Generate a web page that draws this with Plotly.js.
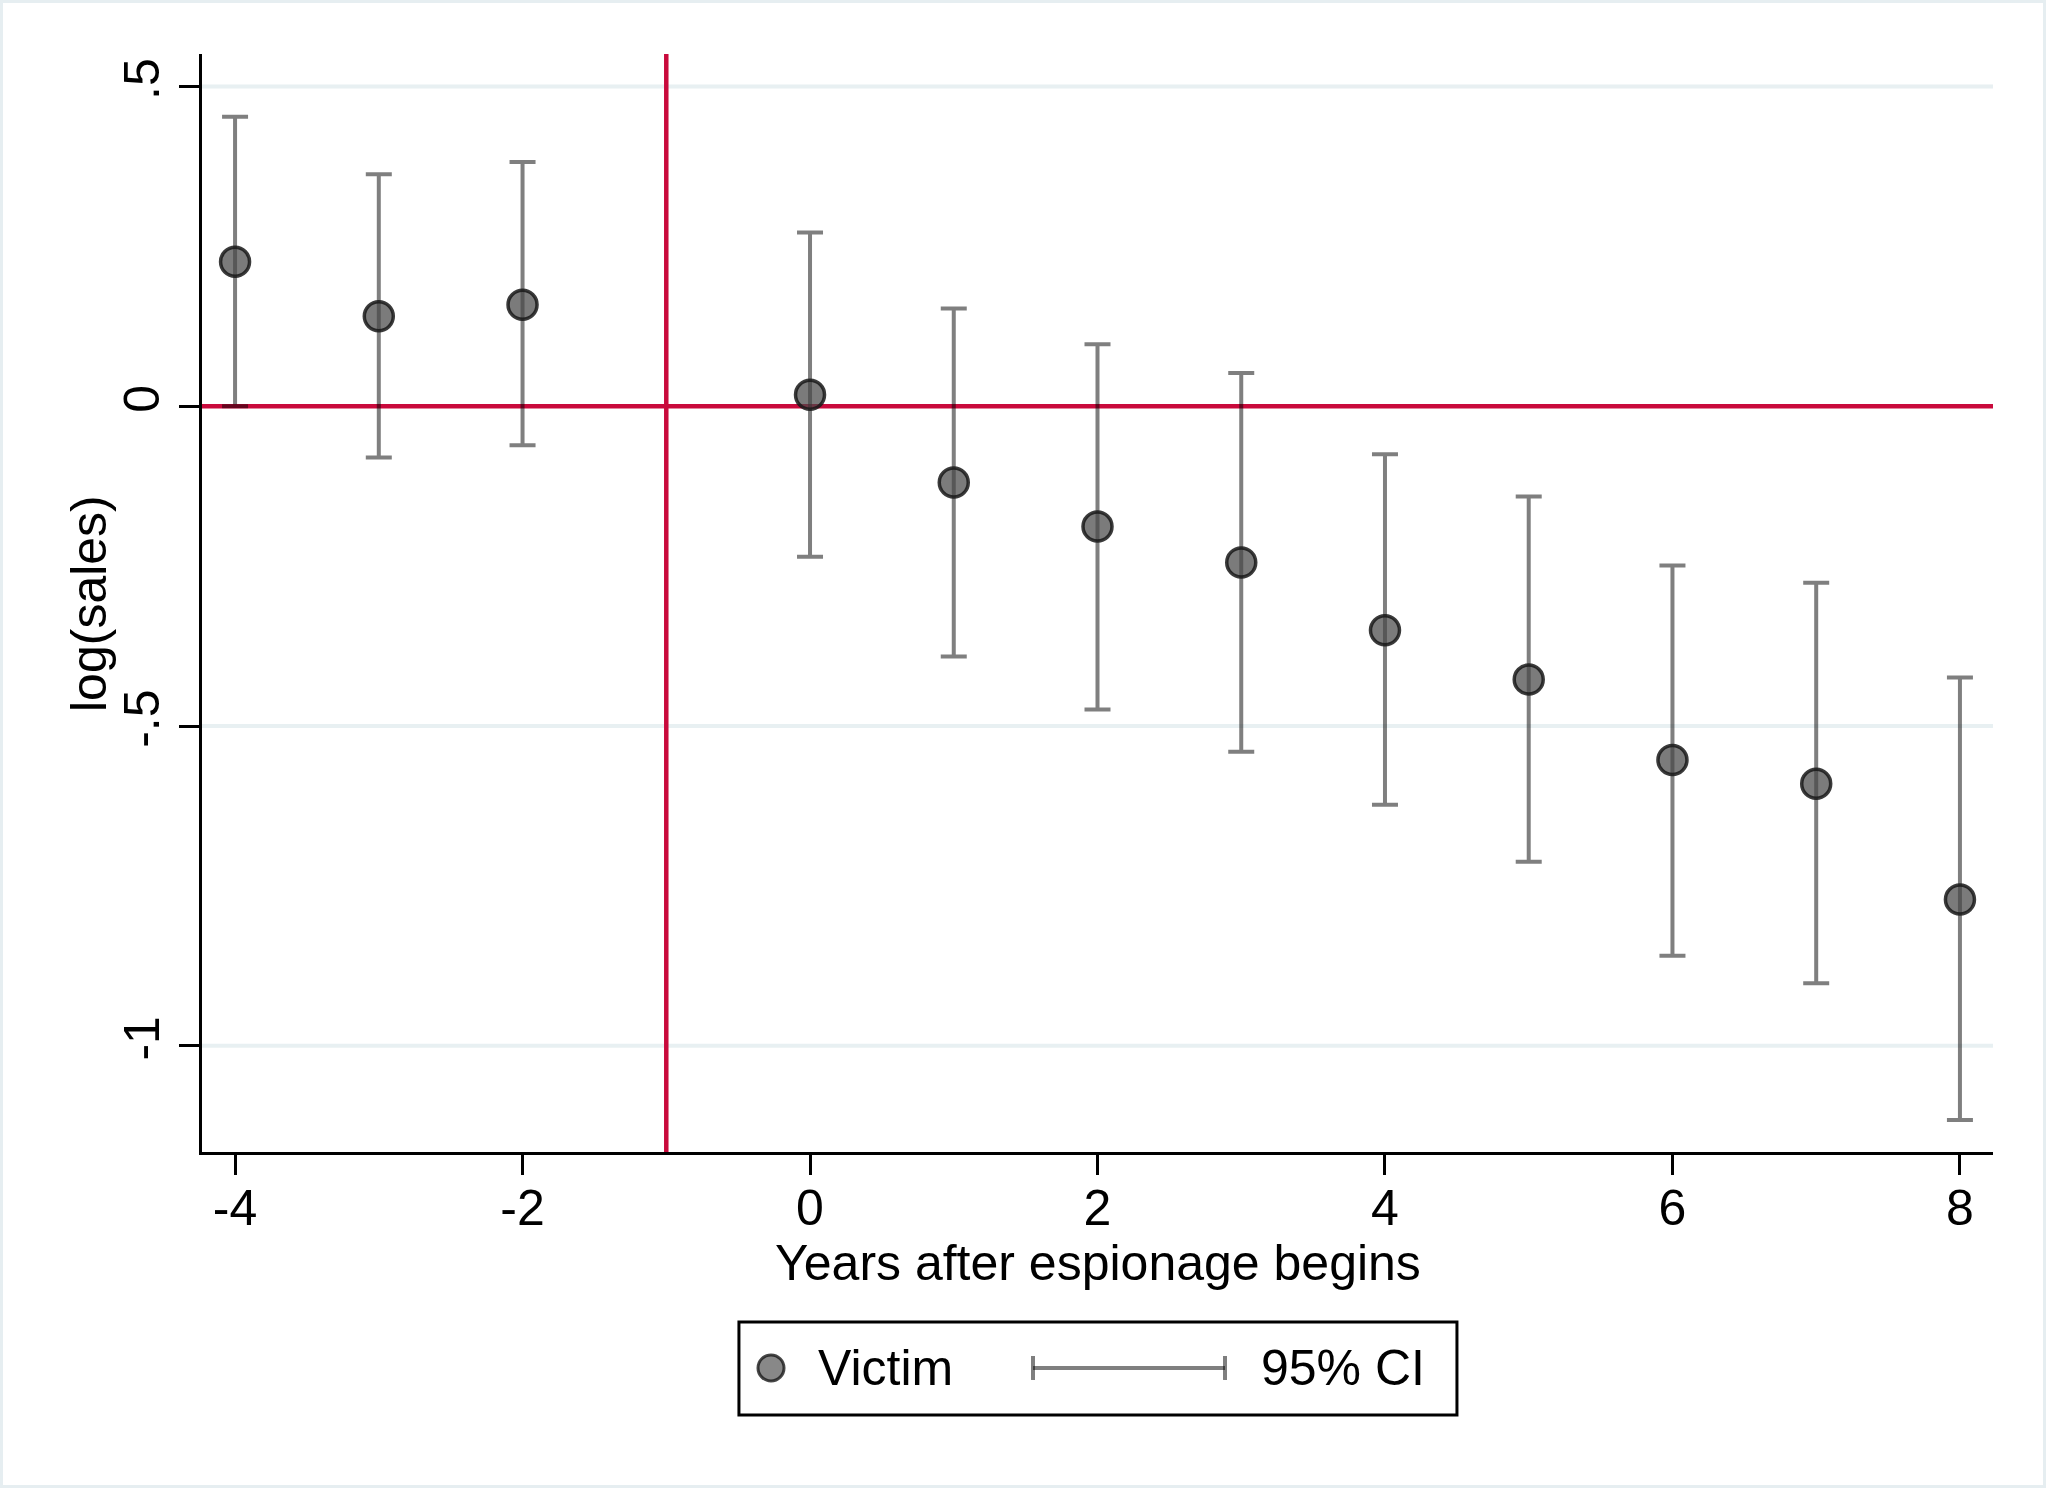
<!DOCTYPE html>
<html>
<head>
<meta charset="utf-8">
<script src="https://cdn.plot.ly/plotly-3.0.1.min.js"></script>
<style>
  body { margin: 0; background: #fff; }
  #wrap { position: relative; width: 2046px; height: 1488px; }
  #frame { position: absolute; left: 0; top: 0; width: 2046px; height: 1488px;
           box-sizing: border-box; border: 3px solid #e6eef1; pointer-events: none; }
</style>
</head>
<body>
<div id="wrap">
  <div id="chart" style="width:2046px;height:1488px;"></div>
  <div id="frame"></div>
</div>
<script>
// event-study coefficients
const years = [-4, -3, -2, 0, 1, 2, 3, 4, 5, 6, 7, 8];
const coef = [0.226, 0.141, 0.159, 0.018, -0.119, -0.188, -0.244, -0.350, -0.427, -0.553, -0.590, -0.771];
const ciHigh = [0.453, 0.363, 0.382, 0.272, 0.153, 0.097, 0.052, -0.075, -0.141, -0.249, -0.276, -0.424];
const ciLow = [0.000, -0.080, -0.061, -0.235, -0.391, -0.474, -0.540, -0.623, -0.712, -0.859, -0.902, -1.116];

const xTicks = [-4, -2, 0, 2, 4, 6, 8];
const xTickText = ['-4', '-2', '0', '2', '4', '6', '8'];
const yTicks = [-1, -0.5, 0, 0.5];
const yTickText = ['-1', '-.5', '0', '.5'];

const eventYear = -1;   // vertical reference line
const baseline = 0;     // horizontal reference line

const RED = '#c90a3c';
const GRID = '#e8f0f2';
const FONT = 'Liberation Sans, Arial, Helvetica, sans-serif';

function plotChart() {
    let victim = {
        type: 'scatter',
        mode: 'markers',
        x: years,
        y: coef,
        name: 'Victim',
        showlegend: false,
        cliponaxis: false,
        marker: {
            size: 29,
            color: 'rgba(72,72,72,0.72)',
            line: { color: 'rgba(25,25,25,0.85)', width: 3.5 }
        },
        error_y: {
            type: 'data',
            symmetric: false,
            array: ciHigh.map((h, i) => h - coef[i]),
            arrayminus: ciLow.map((l, i) => coef[i] - l),
            color: 'rgba(0,0,0,0.5)',
            thickness: 4,
            width: 13
        }
    };

    // gridlines as shapes so the red reference lines can sit on top of them
    const gridShapes = yTicks.filter(v => v !== baseline).map(v => ({
        type: 'line', xref: 'paper', yref: 'y', x0: 0, x1: 1, y0: v, y1: v,
        line: { color: GRID, width: 4 }, layer: 'below'
    }));

    // legend is drawn by hand so the CI symbol can carry caps like the original
    const legY = -0.1967;
    const shapes = gridShapes.concat([
        { type: 'line', xref: 'x', yref: 'paper', x0: eventYear, x1: eventYear, y0: 0, y1: 1,
          line: { color: RED, width: 4.5 }, layer: 'below' },
        { type: 'line', xref: 'paper', yref: 'y', x0: 0, x1: 1, y0: baseline, y1: baseline,
          line: { color: RED, width: 4.5 }, layer: 'below' },
        // legend box
        { type: 'rect', xref: 'paper', yref: 'paper', x0: 0.2998, x1: 0.7007, y0: -0.2395, y1: -0.1548,
          line: { color: '#000', width: 3 }, fillcolor: '#fff' },
        // legend marker
        { type: 'circle', xref: 'paper', yref: 'paper', xsizemode: 'pixel', ysizemode: 'pixel',
          xanchor: 0.3177, yanchor: legY, x0: -13, x1: 13, y0: -13, y1: 13,
          fillcolor: 'rgba(72,72,72,0.65)', line: { color: 'rgba(25,25,25,0.8)', width: 3 } },
        // legend CI symbol
        { type: 'line', xref: 'paper', yref: 'paper', x0: 0.464, x1: 0.5712, y0: legY, y1: legY,
          line: { color: 'rgba(0,0,0,0.5)', width: 4 } },
        { type: 'line', xref: 'paper', yref: 'paper', ysizemode: 'pixel', yanchor: legY,
          x0: 0.464, x1: 0.464, y0: -12, y1: 12, line: { color: 'rgba(0,0,0,0.5)', width: 4 } },
        { type: 'line', xref: 'paper', yref: 'paper', ysizemode: 'pixel', yanchor: legY,
          x0: 0.5712, x1: 0.5712, y0: -12, y1: 12, line: { color: 'rgba(0,0,0,0.5)', width: 4 } }
    ]);

    const annotations = [
        // axis titles
        { xref: 'paper', yref: 'paper', x: 0.5, y: -0.1011, xanchor: 'center', yanchor: 'middle',
          text: 'Years after espionage begins', showarrow: false, font: { family: FONT, size: 50, color: '#000' } },
        { xref: 'paper', yref: 'paper', x: -0.0631, y: 0.5, xanchor: 'center', yanchor: 'middle', textangle: -90,
          text: 'log(sales)', showarrow: false, font: { family: FONT, size: 50, color: '#000' } },
        // legend labels
        { xref: 'paper', yref: 'paper', x: 0.3428, y: legY, xanchor: 'left', yanchor: 'middle',
          text: 'Victim', showarrow: false, font: { family: FONT, size: 50, color: '#000' } },
        { xref: 'paper', yref: 'paper', x: 0.5902, y: legY, xanchor: 'left', yanchor: 'middle',
          text: '95% CI', showarrow: false, font: { family: FONT, size: 50, color: '#000' } }
    ];

    const layout = {
        width: 2046,
        height: 1488,
        margin: { l: 202, r: 53, t: 54, b: 336 },
        paper_bgcolor: '#fff',
        plot_bgcolor: '#fff',
        showlegend: false,
        font: { family: FONT, size: 50, color: '#000' },
        xaxis: {
            range: [-4.23, 8.23],
            tickvals: xTicks,
            ticktext: xTickText,
            ticks: 'outside',
            ticklen: 20,
            tickwidth: 3,
            tickcolor: '#000',
            ticklabelstandoff: -10,
            showline: true,
            linecolor: '#000',
            linewidth: 3,
            showgrid: false,
            zeroline: false,
            tickfont: { family: FONT, size: 50 }
        },
        yaxis: {
            range: [-1.166, 0.551],
            tickvals: yTicks,
            ticktext: yTickText,
            tickangle: -90,
            ticks: 'outside',
            ticklen: 20,
            tickwidth: 3,
            tickcolor: '#000',
            showline: true,
            linecolor: '#000',
            linewidth: 3,
            showgrid: false,
            zeroline: false,
            tickfont: { family: FONT, size: 50 }
        },
        shapes: shapes,
        annotations: annotations
    };

    Plotly.newPlot('chart', [victim], layout, { staticPlot: true });
}

plotChart();
</script>
</body>
</html>
